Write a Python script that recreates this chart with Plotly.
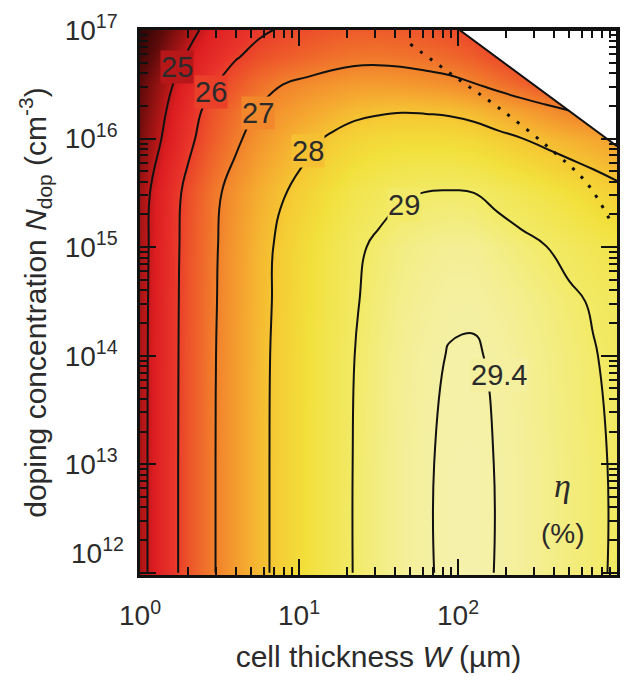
import numpy as np
import plotly.graph_objects as go
from plotly.colors import find_intermediate_color, hex_to_rgb

# ---------------- data ----------------
# grid: log10 of cell thickness W (um) and log10 of doping N (cm^-3)
LOG_W = [0.0, 0.15, 0.3, 0.45, 0.6, 0.75, 0.9, 1.05, 1.2, 1.35, 1.5,
         1.65, 1.8, 1.95, 2.1, 2.25, 2.4, 2.55, 2.7, 2.85, 3.0]
LOG_N = [12, 13, 14, 14.5, 15, 15.5, 16, 16.25, 16.5, 16.75, 17]

# efficiency eta (%) ; rows follow LOG_N, columns follow LOG_W ; None = no data
ETA_N12 = [24.75, 25.55, 26.30, 26.92, 27.40, 27.85, 28.20, 28.50, 28.78, 29.02, 29.18,
           29.30, 29.38, 29.44, 29.45, 29.39, 29.32, 29.24, 29.15, 29.06, 28.96]
ETA_N13 = [24.75, 25.55, 26.30, 26.92, 27.40, 27.85, 28.20, 28.50, 28.78, 29.02, 29.18,
           29.30, 29.38, 29.44, 29.45, 29.39, 29.32, 29.24, 29.15, 29.06, 28.96]
ETA_N14 = [24.74, 25.54, 26.29, 26.91, 27.39, 27.84, 28.19, 28.49, 28.77, 29.00, 29.16,
           29.28, 29.36, 29.41, 29.42, 29.37, 29.29, 29.21, 29.12, 29.02, 28.92]
ETA_N14_5 = [24.73, 25.53, 26.28, 26.89, 27.37, 27.82, 28.16, 28.46, 28.73, 28.97, 29.12,
             29.24, 29.31, 29.37, 29.37, 29.31, 29.24, 29.16, 29.06, 28.97, 28.87]
ETA_N15 = [24.71, 25.51, 26.26, 26.87, 27.35, 27.80, 28.14, 28.43, 28.70, 28.93, 29.07,
           29.18, 29.24, 29.29, 29.28, 29.20, 29.11, 29.01, 28.90, 28.79, 28.66]
ETA_N15_5 = [24.67, 25.46, 26.20, 26.81, 27.26, 27.67, 27.97, 28.24, 28.50, 28.72, 28.86,
             28.96, 29.01, 29.03, 29.00, 28.89, 28.77, 28.64, 28.49, 28.33, 28.16]
ETA_N16 = [24.30, 25.08, 25.81, 26.42, 26.88, 27.29, 27.60, 27.85, 28.08, 28.26, 28.35,
           28.40, 28.40, 28.38, 28.31, 28.16, 28.01, 27.86, 27.71, 27.57, 27.43]
ETA_N16_25 = [24.15, 24.93, 25.66, 26.26, 26.70, 27.07, 27.32, 27.52, 27.70, 27.86, 27.94,
              27.98, 27.96, 27.92, 27.81, 27.63, 27.44, 27.24, 27.03, 26.82, None]
ETA_N16_5 = [24.00, 24.75, 25.40, 25.92, 26.34, 26.73, 27.00, 27.15, 27.28, 27.37, 27.38,
             27.35, 27.28, 27.19, 27.03, 26.79, 26.54, 26.29, 26.05, None, None]
ETA_N16_75 = [23.65, 24.40, 25.08, 25.60, 25.95, 26.23, 26.42, 26.58, 26.73, 26.82, 26.84,
              26.80, 26.72, 26.62, 26.45, 26.19, 25.92, None, None, None, None]
ETA_N17 = [23.30, 24.05, 24.74, 25.27, 25.60, 25.89, 26.08, 26.22, 26.34, 26.42, 26.42,
           26.38, 26.30, 26.20, 26.03, 25.77, None, None, None, None, None]
ETA = [ETA_N12, ETA_N13, ETA_N14, ETA_N14_5, ETA_N15, ETA_N15_5, ETA_N16,
       ETA_N16_25, ETA_N16_5, ETA_N16_75, ETA_N17]

CONTOUR_LEVELS = [25, 26, 27, 28, 29]
PEAK_LEVEL = 29.4

# contour label texts and where they sit (log10 W, log10 N)
LABEL_TEXT = ["25", "26", "27", "28", "29", "29.4"]
LABEL_LOGW = [0.23, 0.445, 0.745, 1.055, 1.66, 2.26]
LABEL_LOGN = [16.66, 16.43, 16.24, 15.89, 15.385, 13.82]

# limit of the computed domain (white region beyond it)
LIMIT_LOGW = [2.01, 3.0]
LIMIT_LOGN = [17.0, 15.93]

# dotted curve
DOT_LOGW = [1.70, 1.98, 2.25, 2.56, 2.81, 2.97]
DOT_LOGN = [16.87, 16.57, 16.29, 15.93, 15.59, 15.21]

X_TICKS = [0, 1, 2, 3]
X_TICK_TEXT = ["10<sup>0</sup>", "10<sup>1</sup>", "10<sup>2</sup>", "10<sup>3</sup>"]
Y_TICKS = [12, 13, 14, 15, 16, 17]
Y_TICK_TEXT = ["", "10<sup>13</sup>", "10<sup>14</sup>", "10<sup>15</sup>",
               "10<sup>16</sup>", "10<sup>17</sup>"]
Y_LOW_LABEL = "10<sup>12</sup>"

# ---------------- figure ----------------
FONT = "Liberation Sans, Arial, sans-serif"
TXT = "#2b2b2b"
ZMIN, ZMAX = 23.0, 29.5

colorscale = [
    [0.000, "#1a0303"],
    [0.154, "#5c0a0a"],
    [0.262, "#a41414"],
    [0.338, "#dc1d21"],
    [0.431, "#e8332a"],
    [0.523, "#ee5a2a"],
    [0.615, "#f2822c"],
    [0.708, "#f5aa30"],
    [0.785, "#f5cc34"],
    [0.846, "#f2e03c"],
    [0.923, "#f2ea66"],
    [0.969, "#f4ef96"],
    [1.000, "#f5f2b2"],
]


def scale_color(value):
    t = (value - ZMIN) / (ZMAX - ZMIN)
    t = min(max(t, 0.0), 1.0)
    for (t0, c0), (t1, c1) in zip(colorscale[:-1], colorscale[1:]):
        if t0 <= t <= t1:
            f = 0 if t1 == t0 else (t - t0) / (t1 - t0)
            r, g, b = find_intermediate_color(hex_to_rgb(c0), hex_to_rgb(c1), f)
            return "rgb(%d,%d,%d)" % (round(r), round(g), round(b))
    return colorscale[-1][1]


def grid_value(lx, ly):
    """bilinear value of the grid at a point (same as the smoothed heatmap)"""
    i = max(0, min(len(LOG_W) - 2, int(np.searchsorted(LOG_W, lx) - 1)))
    j = max(0, min(len(LOG_N) - 2, int(np.searchsorted(LOG_N, ly) - 1)))
    fx = (lx - LOG_W[i]) / (LOG_W[i + 1] - LOG_W[i])
    fy = (ly - LOG_N[j]) / (LOG_N[j + 1] - LOG_N[j])
    z00, z10 = ETA[j][i], ETA[j][i + 1]
    z01, z11 = ETA[j + 1][i], ETA[j + 1][i + 1]
    return (z00 * (1 - fx) * (1 - fy) + z10 * fx * (1 - fy)
            + z01 * (1 - fx) * fy + z11 * fx * fy)


fig = go.Figure()

fig.add_trace(go.Heatmap(
    x=LOG_W, y=LOG_N, z=ETA, zsmooth="best", connectgaps=True,
    colorscale=colorscale, zmin=ZMIN, zmax=ZMAX, showscale=False, hoverinfo="skip"))

fig.add_trace(go.Contour(
    x=LOG_W, y=LOG_N, z=ETA, connectgaps=True,
    contours=dict(start=CONTOUR_LEVELS[0], end=CONTOUR_LEVELS[-1], size=1,
                  coloring="none", showlabels=False),
    line=dict(color="#111111", width=2, smoothing=1.3),
    showscale=False, hoverinfo="skip"))

fig.add_trace(go.Contour(
    x=LOG_W, y=LOG_N, z=ETA, connectgaps=True,
    contours=dict(start=PEAK_LEVEL, end=PEAK_LEVEL, size=1,
                  coloring="none", showlabels=False),
    line=dict(color="#111111", width=2, smoothing=1.3),
    showscale=False, hoverinfo="skip"))

# white no-data region bounded by the limit line
fig.add_trace(go.Scatter(
    x=LIMIT_LOGW + [LIMIT_LOGW[-1], LIMIT_LOGW[0]],
    y=LIMIT_LOGN + [LIMIT_LOGN[0], LIMIT_LOGN[0]],
    mode="lines", fill="toself", fillcolor="white",
    line=dict(color="#111111", width=2), hoverinfo="skip", showlegend=False))

fig.add_trace(go.Scatter(
    x=DOT_LOGW, y=DOT_LOGN, mode="lines",
    line=dict(color="#111111", width=3, dash="3px,9px", shape="spline"),
    hoverinfo="skip", showlegend=False))

x_minor = [n + np.log10(k) for n in range(0, 3) for k in range(2, 10)]
y_minor = [n + np.log10(k) for n in range(12, 17) for k in range(2, 10)]

axis_common = dict(
    showgrid=False, zeroline=False, showline=True, linecolor="#111111", linewidth=2.5,
    mirror="ticks", ticks="inside", ticklen=16, tickwidth=2, tickcolor="#111111",
    tickfont=dict(family=FONT, size=28, color=TXT), ticklabelstandoff=14,
)

fig.update_layout(
    width=630, height=686,
    margin=dict(l=140, r=10, t=25, b=111),
    paper_bgcolor="white", plot_bgcolor="white",
    showlegend=False,
    font=dict(family=FONT, color=TXT),
    xaxis=dict(
        range=[0, 3], tickmode="array", tickvals=X_TICKS, ticktext=X_TICK_TEXT,
        minor=dict(tickmode="array", tickvals=x_minor, ticks="inside", ticklen=8,
                   tickwidth=2, tickcolor="#111111"),
        title=dict(text="cell thickness <i>W</i> (µm)", font=dict(family=FONT, size=30, color=TXT),
                   standoff=16),
        **axis_common),
    yaxis=dict(
        range=[11.98, 17.0], tickmode="array", tickvals=Y_TICKS, ticktext=Y_TICK_TEXT,
        minor=dict(tickmode="array", tickvals=y_minor, ticks="inside", ticklen=8,
                   tickwidth=2, tickcolor="#111111"),
        title=dict(text="doping concentration <i>N</i><sub>dop</sub> (cm<sup>-3</sup>)",
                   font=dict(family=FONT, size=30, color=TXT), standoff=10),
        **axis_common),
)

# contour labels sitting in gaps of the lines (background = local field colour)
for txt, lx, ly in zip(LABEL_TEXT, LABEL_LOGW, LABEL_LOGN):
    fig.add_annotation(x=lx, y=ly, text=txt, showarrow=False,
                       bgcolor=scale_color(grid_value(lx, ly)), borderpad=0,
                       font=dict(family=FONT, size=29, color=TXT))

fig.add_annotation(x=0, xref="paper", y=12, yref="y", text=Y_LOW_LABEL, showarrow=False,
                   xanchor="right", yanchor="middle", xshift=-14, yshift=22,
                   font=dict(family=FONT, size=28, color=TXT))
fig.add_annotation(x=2.66, y=12.8, text="<i>η</i>", showarrow=False,
                   font=dict(family="Liberation Serif, serif", size=34, color=TXT))
fig.add_annotation(x=2.66, y=12.36, text="(%)", showarrow=False,
                   font=dict(family=FONT, size=28, color=TXT))

fig.write_html("out.html")
